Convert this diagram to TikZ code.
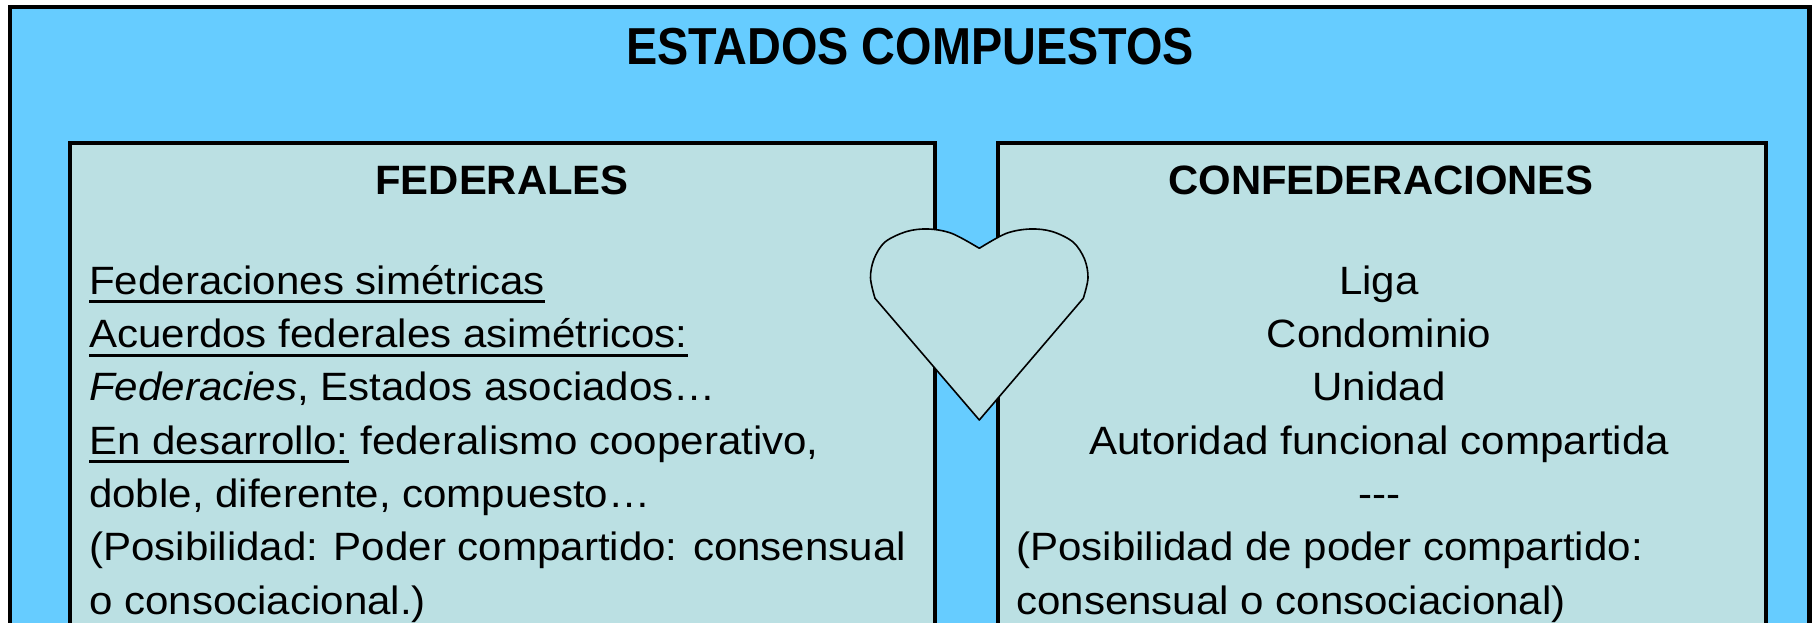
\documentclass[tikz,border=0pt]{standalone}
\usepackage{fontspec}
\setmainfont{Liberation Sans}
\newfontfamily\bodyfont[FakeStretch=1.065]{Liberation Sans}
\newfontfamily\titlefont[FakeStretch=0.9]{Liberation Sans}
\newfontfamily\headfont[FakeStretch=1.02]{Liberation Sans}
\definecolor{outerblue}{HTML}{66CCFF}
\definecolor{innerblue}{HTML}{BBE0E3}
\newsavebox\myulbox
\newcommand\myul[1]{\sbox\myulbox{#1}\rlap{\rule[-9pt]{\wd\myulbox}{3pt}}\usebox\myulbox}
\begin{document}
\begin{tikzpicture}[x=1pt,y=-1pt,
  bodytext/.style={inner sep=0pt, font=\bodyfont\fontsize{39.5}{53}\selectfont},
  headtext/.style={inner sep=0pt, font=\headfont\bfseries\fontsize{41}{50}\selectfont},
  titletext/.style={inner sep=0pt, font=\titlefont\bfseries\fontsize{52}{60}\selectfont},
  outerframe/.style={line width=4.5pt, draw=black, fill=outerblue},
  innerframe/.style={line width=4pt, draw=black, fill=innerblue},
  heartshape/.style={line width=1.6pt, draw=black, fill=innerblue, line join=round}]
\clip (0,0) rectangle (1816,623);
\fill[white] (0,0) rectangle (1816,623);
\draw[outerframe] (10,7) rectangle (1809.5,700);
\draw[innerframe] (70,143) rectangle (935,700);
\draw[innerframe] (998,143) rectangle (1766,700);
\draw[heartshape] (979.3,420) -- (875,298.3)
  -- plot[smooth, tension=0.55] coordinates {(875,298.3) (870.5,278) (874,259) (885,242) (906.7,231.5) (928.3,229) (952,233.5) (979.3,248.3)}
  -- plot[smooth, tension=0.55] coordinates {(979.3,248.3) (1006,233.5) (1030,229) (1052,231.5) (1073,242) (1084.5,259) (1088,278) (1083.3,298.3)}
  -- cycle;
\node[titletext, anchor=base] (title) at (910,65) {ESTADOS COMPUESTOS};
\node[headtext, anchor=base] (fedhead) at (502,194) {FEDERALES};
\node[headtext, anchor=base] (confhead) at (1381,194) {CONFEDERACIONES};
\node[bodytext, anchor=base west] (l1) at (89,294.3) {\myul{Federaciones simétricas}};
\node[bodytext, anchor=base west] (l2) at (89,347.6) {\myul{Acuerdos federales asimétricos:}};
\node[bodytext, anchor=base west] (l3) at (89,400.9) {\textit{Federacies}, Estados asociados…};
\node[bodytext, anchor=base west] (l4) at (89,454.2) {\myul{En desarrollo:} federalismo cooperativo,};
\node[bodytext, anchor=base west] (l5) at (89,507.5) {doble, diferente, compuesto…};
\node[bodytext, anchor=base west] (l6) at (89,560.8) {(Posibilidad: Poder compartido: consensual};
\node[bodytext, anchor=base west] (l7) at (89,614.1) {o consociacional.)};
\node[bodytext, anchor=base] (r1) at (1379,294.3) {Liga};
\node[bodytext, anchor=base] (r2) at (1379,347.6) {Condominio};
\node[bodytext, anchor=base] (r3) at (1379,400.9) {Unidad};
\node[bodytext, anchor=base] (r4) at (1379,454.2) {Autoridad funcional compartida};
\node[bodytext, anchor=base] (r5) at (1379,507.5) {-{}-{}-};
\node[bodytext, anchor=base west] (r6) at (1016,560.8) {(Posibilidad de poder compartido:};
\node[bodytext, anchor=base west] (r7) at (1016,614.1) {consensual o consociacional)};
\end{tikzpicture}
\end{document}
